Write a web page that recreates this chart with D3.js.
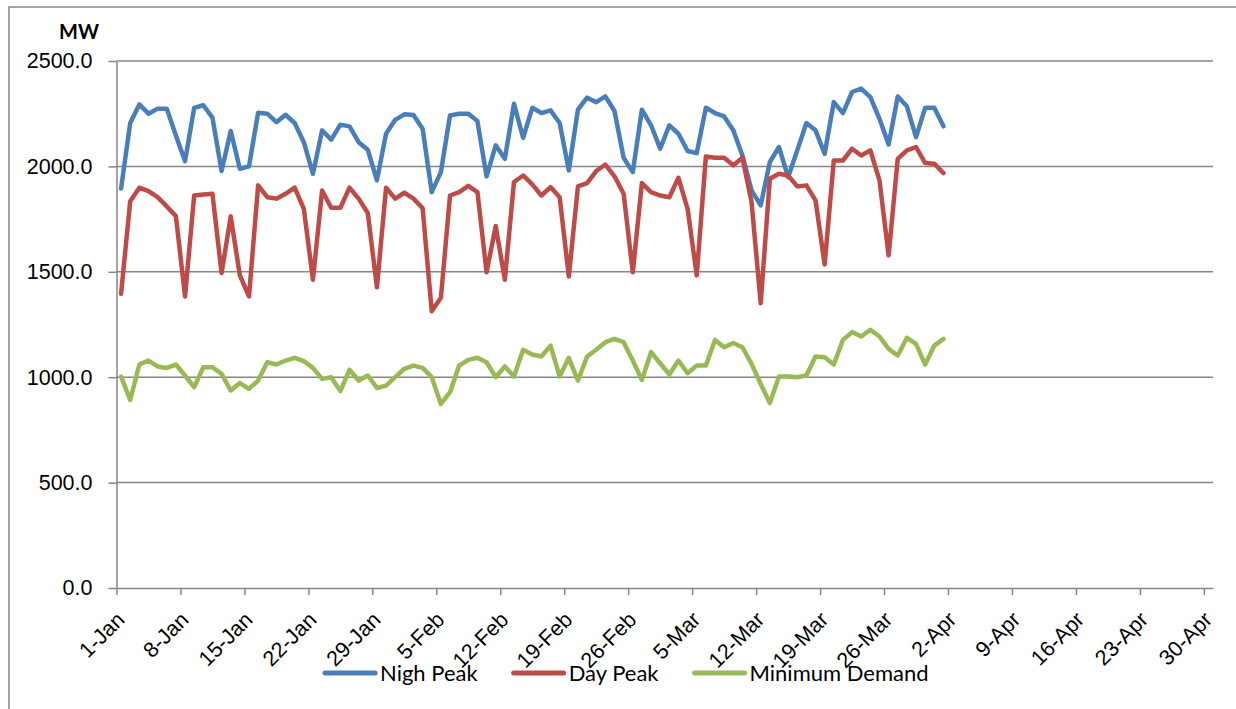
<!DOCTYPE html>
<html lang="en">
<head>
<meta charset="UTF-8">
<title>MW demand</title>
<style>
  body { margin: 0; background: #fff; }
  svg { display: block; font-family: Lato, "Open Sans", sans-serif; }
  .axis path, .axis line { stroke: #868686; stroke-width: 1.5px; }
  .axis text { fill: #000; font-size: 21.5px; }
  .grid line { stroke: #868686; stroke-width: 1.5px; }
  .series { fill: none; stroke-width: 4.5px; stroke-linejoin: round; stroke-linecap: round; }
</style>
</head>
<body>
<script src="https://d3js.org/d3.v7.min.js"></script>
<script>
// daily values, 1-Jan .. 1-Apr
const startDate = new Date(2013, 0, 1)
const endDate = new Date(2013, 3, 2)
const nighPeak = [1895,2206,2294,2250,2274,2274,2147,2025,2278,2290,2231,1978,2168,1989,2000,2255,2250,2210,2245,2206,2115,1965,
  2171,2127,2198,2190,2115,2079,1934,2155,2221,2247,2244,2179,1878,1973,2242,2250,2250,2215,1953,2100,2036,2297,
  2136,2278,2253,2266,2206,1981,2269,2326,2305,2332,2263,2041,1973,2269,2195,2084,2195,2155,2073,2063,2278,2253,2237,
  2171,2052,1886,1815,2021,2092,1949,2076,2206,2171,2060,2305,2253,2353,2369,2329,2226,2104,2332,2285,2139,2278,2278,2190]
const dayPeak = [1396,1835,1899,1883,1854,1810,1764,1383,1862,1867,1870,1494,1763,1483,1383,1910,1854,1847,1870,1899,1799,1462,
  1886,1804,1804,1899,1847,1779,1427,1899,1847,1875,1847,1802,1313,1377,1862,1878,1908,1878,1498,1717,1462,1926,
  1957,1915,1862,1902,1854,1478,1905,1921,1978,2009,1953,1870,1498,1921,1878,1862,1854,1946,1799,1483,2047,2041,2041,
  2005,2041,1831,1351,1941,1965,1957,1905,1910,1839,1535,2028,2028,2084,2052,2076,1934,1578,2036,2076,2092,2016,2013,1968]
const minDemand = [1003,892,1060,1079,1051,1044,1060,1008,953,1047,1047,1016,937,972,945,984,1071,1060,1079,1092,1076,1044,
  992,1000,934,1035,984,1008,949,960,1000,1040,1055,1044,1000,873,929,1055,1082,1092,1071,1000,1051,1003,
  1130,1108,1098,1150,1003,1092,984,1098,1130,1166,1182,1166,1079,987,1119,1066,1013,1079,1019,1055,1055,1177,1142,
  1162,1142,1063,968,877,1003,1003,1000,1008,1098,1095,1060,1177,1214,1193,1225,1193,1134,1103,1187,1158,1060,1150,1182]
const yTicks = [0, 500, 1000, 1500, 2000, 2500]
const seriesNames = ["Nigh Peak", "Day Peak", "Minimum Demand"]
const seriesColors = ["#4a7ebb", "#be4b48", "#98b954"]

const width = 1236, height = 709
const margin = {top: 61, right: 23, bottom: 121, left: 116.5}

const dates = d3.timeDay.range(startDate, endDate)
const series = [nighPeak, dayPeak, minDemand]

const x = d3.scaleTime()
  .domain([startDate, new Date(2013, 4, 1)])
  .range([margin.left, width - margin.right])
const y = d3.scaleLinear()
  .domain([0, 2500])
  .range([height - margin.bottom, margin.top])

const svg = d3.select("body").append("svg")
  .attr("width", width)
  .attr("height", height)

// outer chart border (only left and top show in the frame)
svg.append("path")
  .attr("d", `M9,${height} V7 H${width}`)
  .attr("fill", "none")
  .attr("stroke", "#868686")
  .attr("stroke-width", 1.5)

svg.append("g")
  .attr("class", "grid")
  .selectAll("line")
  .data(yTicks.slice(1))
  .join("line")
    .attr("x1", margin.left)
    .attr("x2", width - margin.right)
    .attr("y1", d => y(d))
    .attr("y2", d => y(d))

svg.append("g")
  .attr("class", "axis")
  .attr("transform", `translate(${margin.left},0)`)
  .call(d3.axisLeft(y).tickValues(yTicks).tickFormat(d3.format(".1f")).tickSizeInner(8).tickSizeOuter(0).tickPadding(16))
  .selectAll("text").attr("fill", "#000")

const xTicks = d3.timeDay.range(startDate, new Date(2013, 4, 1), 7)
svg.append("g")
  .attr("class", "axis")
  .attr("transform", `translate(0,${height - margin.bottom})`)
  .call(d3.axisBottom(x).tickValues(xTicks).tickFormat(d3.timeFormat("%-d-%b")).tickSizeInner(7).tickSizeOuter(0))
  .selectAll("text")
    .attr("fill", "#000")
    .attr("x", 0)
    .attr("y", 0)
    .attr("dy", 0)
    .attr("text-anchor", "end")
    .attr("transform", "translate(9,33) rotate(-45)")

svg.append("text")
  .attr("x", 79)
  .attr("y", 39)
  .attr("text-anchor", "middle")
  .attr("font-weight", "bold")
  .attr("font-size", 20)
  .text("MW")

// points sit in the middle of each day
const line = d3.line()
  .x((d, i) => x(d3.timeHour.offset(dates[i], 12)))
  .y(d => y(d))

svg.append("g")
  .selectAll("path")
  .data(series)
  .join("path")
    .attr("class", "series")
    .attr("stroke", (d, i) => seriesColors[i])
    .attr("d", line)

// legend
const legend = svg.append("g").attr("font-size", 22)
let lx = 325
seriesNames.forEach((name, i) => {
  legend.append("line")
    .attr("x1", lx).attr("x2", lx + 50)
    .attr("y1", 673).attr("y2", 673)
    .attr("stroke", seriesColors[i])
    .attr("stroke-width", 5)
    .attr("stroke-linecap", "round")
  const t = legend.append("text")
    .attr("x", lx + 55)
    .attr("y", 681)
    .text(name)
  lx += 55 + t.node().getComputedTextLength() + 36
})
</script>
</body>
</html>
